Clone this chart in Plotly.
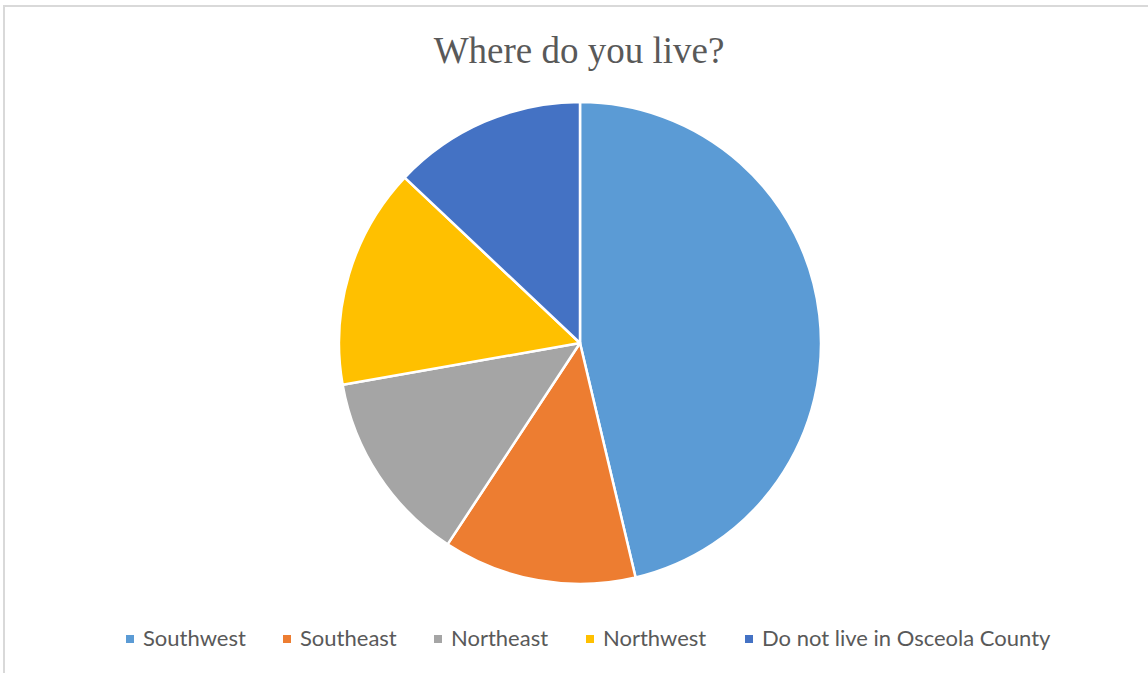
import plotly.graph_objects as go

# Survey responses: where respondents live
regions = ["Southwest", "Southeast", "Northeast", "Northwest", "Do not live in Osceola County"]
responses = [25, 7, 7, 8, 7]
slice_colors = ["#5B9BD5", "#ED7D31", "#A5A5A5", "#FFC000", "#4472C4"]

W, H = 1148, 673

fig = go.Figure(
    go.Pie(
        labels=regions,
        values=responses,
        sort=False,
        direction="clockwise",
        rotation=0,
        textinfo="none",
        hoverinfo="label+value+percent",
        showlegend=False,
        marker=dict(colors=slice_colors, line=dict(color="white", width=2.5)),
        domain=dict(x=[(580 - 241) / W, (580 + 241) / W], y=[1 - 584 / H, 1 - 102 / H]),
    )
)

# Chart frame
shapes = [
    dict(
        type="rect",
        xref="paper",
        yref="paper",
        x0=4 / W,
        x1=1.05,
        y0=-0.05,
        y1=1 - 6 / H,
        line=dict(color="#D9D9D9", width=2),
        fillcolor="rgba(0,0,0,0)",
        layer="below",
    )
]
annotations = []

# Bottom legend: small square swatch followed by the label
legend_swatch_left = [126, 283, 434, 586, 745]
legend_y = 1 - 639 / H
label_y = 1 - 637 / H
swatch = 8
for name, color, left in zip(regions, slice_colors, legend_swatch_left):
    shapes.append(
        dict(
            type="rect",
            xref="paper",
            yref="paper",
            x0=left / W,
            x1=(left + swatch) / W,
            y0=legend_y - swatch / 2 / H,
            y1=legend_y + swatch / 2 / H,
            line=dict(width=0),
            fillcolor=color,
        )
    )
    annotations.append(
        dict(
            text=name,
            xref="paper",
            yref="paper",
            x=(left + swatch + 7) / W,
            y=label_y,
            xanchor="left",
            yanchor="middle",
            showarrow=False,
            font=dict(family="Lato", size=22, color="#595959"),
        )
    )

fig.update_layout(
    width=W,
    height=H,
    margin=dict(l=0, r=0, t=0, b=0),
    paper_bgcolor="white",
    title=dict(
        text="Where do you live?",
        x=579 / W,
        xanchor="center",
        y=1 - 50 / H,
        yanchor="middle",
        font=dict(family="Liberation Serif", size=37, color="#595959"),
    ),
    shapes=shapes,
    annotations=annotations,
)

fig.write_html("out.html")
